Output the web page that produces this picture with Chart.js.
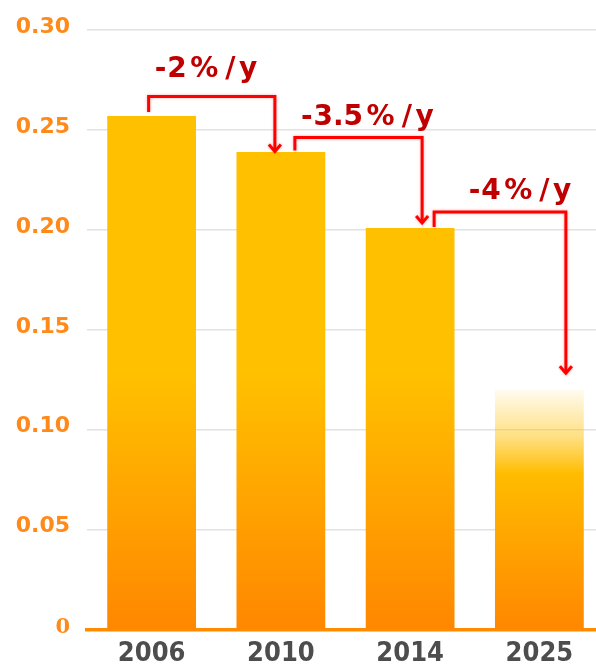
<!DOCTYPE html>
<html lang="en">
<head>
<meta charset="UTF-8">
<title>Cost trend</title>
<script src="https://cdn.jsdelivr.net/npm/chart.js"></script>
<style>
  html, body { margin: 0; padding: 0; background: #fff; overflow: hidden; }
  #chart { display: block; }
</style>
</head>
<body>
<canvas id="chart" width="604" height="666"></canvas>
<script>
// values
const years = ['2006', '2010', '2014', '2025'];
const costs = [0.257, 0.239, 0.201, 0.12];
const yMax = 0.30;
const yStep = 0.05;
const rateLabels = ['-2%/y', '-3.5%/y', '-4%/y'];
const rateFrom = [0, 1, 2];
const rateTo = [1, 2, 3];
const fadedBar = 3; // the 2025 target bar fades out at the top

// arrow placement tweaks, in pixels
const arrowLayout = [
  { startDx: -3, endDx: -6, startGap: 4, rise: 19.5, tipGap: -0.5, textDx: 5, textDy: -20 },
  { startDx: 14, endDx: 12, startGap: 1.5, rise: 14.5, tipGap: 4, textDx: 5, textDy: -13 },
  { startDx: 24, endDx: 26.5, startGap: 1, rise: 16, tipGap: 15.5, textDx: 33.5, textDy: -13 }
];

const tickColor = '#FF8A1A';
const tickPadding = 17;

// vertical yellow -> orange fill, built on the y scale
function barFill(c) {
  const chart = c.chart;
  if (!chart.chartArea) return '#FFC000';
  const y = chart.scales.y;
  const g = chart.ctx.createLinearGradient(0, y.getPixelForValue(0), 0, y.getPixelForValue(yMax));
  g.addColorStop(0, '#FF8700');
  if (c.dataIndex === fadedBar) {
    const top = costs[fadedBar] / yMax;
    g.addColorStop(top - 0.14, 'rgba(255,188,0,1)');
    g.addColorStop(top - 0.08, 'rgba(255,192,0,0.5)');
    g.addColorStop(top, 'rgba(255,192,0,0.06)');
    g.addColorStop(1, 'rgba(255,192,0,0)');
  } else {
    g.addColorStop(0.42, '#FFC000');
    g.addColorStop(1, '#FFC000');
  }
  return g;
}

function drawSpaced(ctx, text, x, y) {
  ctx.font = 'bold 28px "DejaVu Sans"';
  ctx.fillStyle = '#C00000';
  ctx.textAlign = 'left';
  ctx.textBaseline = 'alphabetic';
  for (const ch of text) {
    const pad = (ch === '%' || ch === '/') ? 3.5 : (ch === '-' ? 1 : 0);
    x += pad;
    ctx.fillText(ch, x, y);
    x += ctx.measureText(ch).width + pad;
  }
}

// the zero tick is set in a serif face in the original
const zeroTick = {
  id: 'zeroTick',
  afterDraw(chart) {
    const ctx = chart.ctx;
    const y = chart.scales.y;
    ctx.save();
    ctx.font = 'bold 21px "DejaVu Serif"';
    ctx.fillStyle = tickColor;
    ctx.textAlign = 'right';
    ctx.textBaseline = 'middle';
    ctx.fillText('0', y.right - tickPadding, y.getPixelForValue(0) - 2);
    ctx.restore();
  }
};

// the red step arrows with the yearly rates
const rateArrows = {
  id: 'rateArrows',
  afterDatasetsDraw(chart) {
    const ctx = chart.ctx;
    const x = chart.scales.x;
    const y = chart.scales.y;
    ctx.save();
    rateLabels.forEach((label, i) => {
      const a = arrowLayout[i];
      const x0 = x.getPixelForValue(rateFrom[i]) + a.startDx;
      const x1 = x.getPixelForValue(rateTo[i]) + a.endDx;
      const top0 = y.getPixelForValue(costs[rateFrom[i]]);
      const top1 = y.getPixelForValue(costs[rateTo[i]]);
      const yLine = top0 - a.rise;
      const yTip = top1 - a.tipGap;

      ctx.save();
      ctx.strokeStyle = '#FF0000';
      ctx.lineWidth = 3;
      ctx.lineJoin = 'miter';
      ctx.shadowColor = 'rgba(255,0,0,0.35)';
      ctx.shadowBlur = 3;
      ctx.beginPath();
      ctx.moveTo(x0, top0 - a.startGap);
      ctx.lineTo(x0, yLine);
      ctx.lineTo(x1, yLine);
      ctx.lineTo(x1, yTip - 2);
      ctx.stroke();
      ctx.beginPath();
      ctx.moveTo(x1 - 6, yTip - 8);
      ctx.lineTo(x1, yTip - 1);
      ctx.lineTo(x1 + 6, yTip - 8);
      ctx.stroke();
      ctx.restore();

      drawSpaced(ctx, label, x0 + a.textDx, yLine + a.textDy);
    });
    ctx.restore();
  }
};

new Chart(document.getElementById('chart'), {
  type: 'bar',
  data: {
    labels: years,
    datasets: [{
      data: costs,
      backgroundColor: barFill,
      borderWidth: 0,
      categoryPercentage: 1,
      barPercentage: 0.687
    }]
  },
  options: {
    responsive: false,
    animation: false,
    layout: { padding: { top: 27, left: 0, right: 0, bottom: 0 } },
    plugins: { legend: { display: false }, tooltip: { enabled: false } },
    scales: {
      x: {
        grid: { display: false },
        border: { display: true, color: '#FF8C00', width: 3.5 },
        ticks: {
          color: '#4D4D4D',
          padding: 0,
          font: { family: '"DejaVu Sans Condensed", "DejaVu Sans"', weight: 'bold', size: 27 }
        },
        afterFit(scale) { scale.height = 36.5; }
      },
      y: {
        min: 0,
        max: yMax,
        grid: { color: '#E2E2E2', lineWidth: 1.5, drawTicks: false },
        border: { display: false },
        ticks: {
          stepSize: yStep,
          padding: tickPadding,
          labelOffset: -3,
          color: tickColor,
          callback: v => v === 0 ? '' : v.toFixed(2),
          font: { family: 'DejaVu Sans', weight: 'bold', size: 22 }
        },
        afterFit(scale) { scale.width = 87; }
      }
    }
  },
  plugins: [rateArrows, zeroTick]
});
</script>
</body>
</html>
